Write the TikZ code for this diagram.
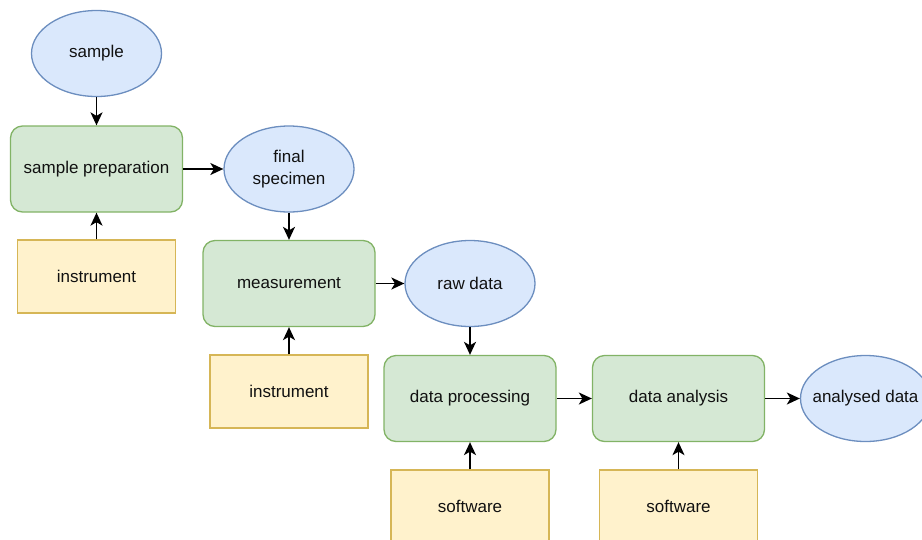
\documentclass[tikz,border=0pt]{standalone}
\usepackage{fontspec}
\setmainfont{Liberation Sans}
\usetikzlibrary{arrows.meta,positioning,shapes.geometric}

\definecolor{datafill}{HTML}{DAE8FC}
\definecolor{datadraw}{HTML}{6C8EBF}
\definecolor{stepfill}{HTML}{D5E8D4}
\definecolor{stepdraw}{HTML}{82B366}
\definecolor{toolfill}{HTML}{FFF2CC}
\definecolor{tooldraw}{HTML}{D6B656}
\definecolor{labeltext}{HTML}{111111}

\begin{document}
\begin{tikzpicture}[on grid,
    font=\fontsize{17}{21.5}\selectfont,
    >={Stealth[length=13pt,width=12pt,inset=3.5pt]},
    datum/.style={ellipse,draw=datadraw,fill=datafill,line width=1.3pt,
                  minimum width=130pt,minimum height=86pt,inner sep=0pt,
                  align=center,text=labeltext},
    process/.style={rectangle,rounded corners=12pt,draw=stepdraw,fill=stepfill,
                    line width=1.3pt,minimum width=172pt,minimum height=86pt,
                    text=labeltext},
    tool/.style={rectangle,draw=tooldraw,fill=toolfill,line width=1.3pt,
                 minimum width=158pt,minimum height=73pt,text=labeltext},
    flow/.style={->,line width=1.6pt}]
    \useasboundingbox (0,0) rectangle (922pt,-539pt);
    \clip (0,0) rectangle (922pt,-539pt);

    \node[datum]   (sample)   at (96.5pt,-53.5pt)   {sample};
    \node[process] (prep)     [below=115.5pt of sample] {sample preparation};
    \node[tool]    (instr_1)  [below=107.5pt of prep]   {instrument};
    \node[datum]   (specimen) [right=192.5pt of prep]   {final\\specimen};
    \node[process] (meas)     [below=114.5pt of specimen] {measurement};
    \node[tool]    (instr_2)  [below=108pt of meas]     {instrument};
    \node[datum]   (raw)      [right=181pt of meas]     {raw data};
    \node[process] (proc)     [below=115pt of raw]      {data processing};
    \node[tool]    (soft_1)   [below=108pt of proc]     {software};
    \node[process] (ana)      [right=208.5pt of proc]   {data analysis};
    \node[tool]    (soft_2)   [below=108pt of ana]      {software};
    \node[datum]   (result)   [right=187pt of ana]      {\makebox[80pt]{analysed data}};

    \draw[flow] (sample)   -- (prep);
    \draw[flow] (instr_1)  -- (prep);
    \draw[flow] (prep)     -- (specimen);
    \draw[flow] (specimen) -- (meas);
    \draw[flow] (instr_2)  -- (meas);
    \draw[flow] (meas)     -- (raw);
    \draw[flow] (raw)      -- (proc);
    \draw[flow] (soft_1)   -- (proc);
    \draw[flow] (proc)     -- (ana);
    \draw[flow] (soft_2)   -- (ana);
    \draw[flow] (ana)      -- (result);
\end{tikzpicture}
\end{document}
